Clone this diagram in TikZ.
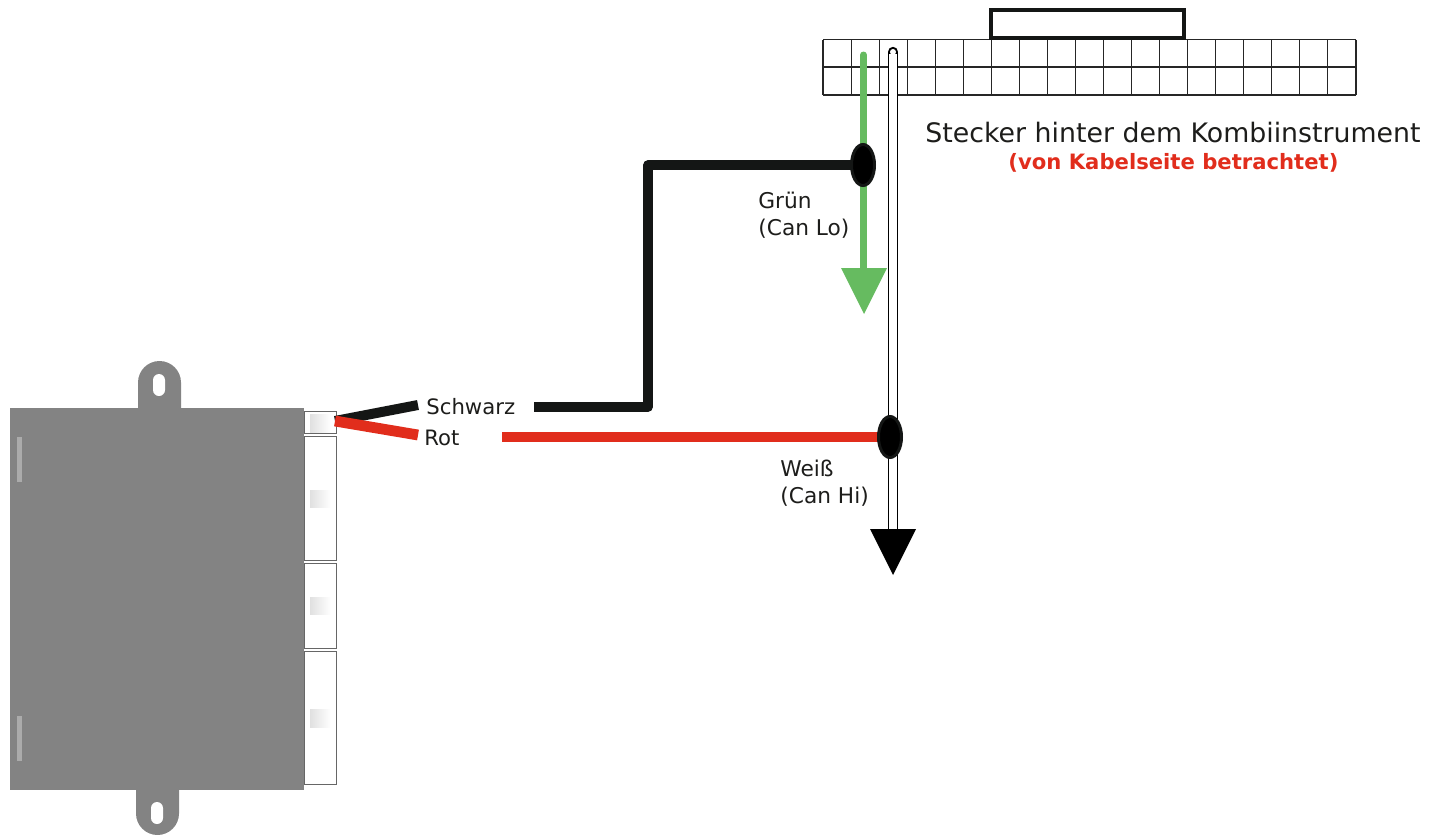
\documentclass[tikz,border=0pt]{standalone}
\usepackage{fontspec}
\setmainfont{DejaVu Sans}
\usetikzlibrary{shapes.geometric}
\definecolor{boxgray}{HTML}{838383}
\definecolor{stripgray}{HTML}{ABABAB}
\definecolor{wirered}{HTML}{E12D1C}
\definecolor{wireblack}{HTML}{141615}
\definecolor{wiregreen}{HTML}{66BB60}
\definecolor{txt}{HTML}{1D1D1B}
\tikzset{
  cell/.style={draw=black!85,line width=0.55pt},
  conn/.style={draw=black!60,fill=white,line width=0.45pt},
  shade/.style={left color=black!12,right color=white,draw=none},
  strip/.style={fill=stripgray,draw=none},
  wire/.style={line width=#1,line cap=butt},
  junction/.style={ellipse,fill=black,draw=wireblack,line width=1.5pt,minimum width=11.5pt,minimum height=20.5pt,inner sep=0pt},
  lab/.style={font=\fontsize{10.6}{13.5}\selectfont,text=txt,inner sep=0pt,anchor=west,align=left},
  labb/.style={lab,font=\fontsize{10.85}{13.5}\selectfont},
}
\begin{document}
\begin{tikzpicture}[x=0.5pt,y=-0.5pt]
\useasboundingbox (0,0) rectangle (1430,835);
% connector housings
\draw[conn] (304,411) rectangle (336,433);
\draw[conn] (304,436) rectangle (336,560);
\draw[conn] (304,563) rectangle (336,648);
\draw[conn] (304,651) rectangle (336,784);
\fill[shade] (310,414) rectangle (331,432);
\fill[shade] (310,490) rectangle (331,507);
\fill[shade] (310,597) rectangle (331,614);
\fill[shade] (310,709) rectangle (331,727);
% housing body
\fill[boxgray] (10,408) rectangle (304,790);
\fill[boxgray] (138,410) -- (138,382.5) arc[start angle=180,end angle=360,radius=21.5] -- (181,410) -- cycle;
\fill[boxgray] (136,788) -- (136,813.5) arc[start angle=180,end angle=0,radius=21.5] -- (179,788) -- cycle;
\fill[white] (153,380) arc[start angle=180,end angle=360,radius=6] -- (165,390) arc[start angle=0,end angle=180,radius=6] -- cycle;
\fill[white] (151,808) arc[start angle=180,end angle=360,radius=6] -- (163,818) arc[start angle=0,end angle=180,radius=6] -- cycle;
\fill[strip] (17,437) rectangle (21.5,482);
\fill[strip] (17,716) rectangle (21.5,761);
% plug
\foreach \i in {0,...,19} {\draw[cell] ({823+\i*28.05},39.5) -- ({823+\i*28.05},95);}
\draw[cell] (823,39.5) -- (1356,39.5);
\draw[cell] (823,67) -- (1356,67);
\draw[cell] (823,95) -- (1356,95);
\draw[draw=wireblack,fill=white,line width=2pt] (990.5,9.5) rectangle (1183.5,38);
% labels
\node[lab] (schwarz) at (426,407) {Schwarz};
\node[lab] (rot) at (424,437.5) {Rot};
\node[labb] (gruen) at (758,215.5) {Grün\\(Can Lo)};
\node[labb] (weiss) at (780,483.5) {Weiß\\(Can Hi)};
\node[lab,font=\fontsize{13.39}{16}\selectfont,anchor=west] (title) at (925,132.5) {Stecker hinter dem Kombiinstrument};
\node[lab,font=\fontsize{10.58}{12}\selectfont\bfseries,text=wirered,anchor=west] (sub) at (1008,162.5) {(von Kabelseite betrachtet)};
% junctions (positions) and free ends
\coordinate (dotg) at (863,165);
\coordinate (dotw) at (890,437);
\coordinate (plug) at (335,421);
\coordinate (blackend) at (418,405);
\coordinate (redend) at (418,435);
\coordinate (blackstart) at (534,407);
\coordinate (blackc1) at (648,407);
\coordinate (blackc2) at (648,165);
\coordinate (redstart) at (502,437);
\coordinate (greentop) at (863.5,55);
\coordinate (greenbot) at (863.5,270);
\coordinate (whitetop) at (893,52);
\coordinate (whitebot) at (893,532);
% stubs
\draw[wireblack,wire=5pt] (plug) -- (blackend);
\draw[wirered,wire=5.4pt] (plug) -- (redend);
% green wire with arrow
\draw[wiregreen,line width=3.5pt,line cap=round] (greentop) -- (greenbot);
\fill[wiregreen] (841,268) -- (887,268) -- (864,314) -- cycle;
% white wire with arrow
\draw[black,line width=5.2pt,line cap=round] (whitetop) -- (whitebot);
\draw[white,line width=3.6pt] ([yshift=-1pt]whitetop) -- ([yshift=-2pt]whitebot);
\fill[white] (893,52) circle[radius=3];
\fill[black] (870,529) -- (916,529) -- (893,575) -- cycle;
% black and red wires
\draw[wireblack,line width=4.6pt,line join=round] (blackstart) -- (blackc1) -- (blackc2) -- (dotg);
\draw[wirered,line width=5pt] (redstart) -- (dotw);
\node[junction] (jg) at (dotg) {};
\node[junction] (jw) at (dotw) {};
\end{tikzpicture}
\end{document}
